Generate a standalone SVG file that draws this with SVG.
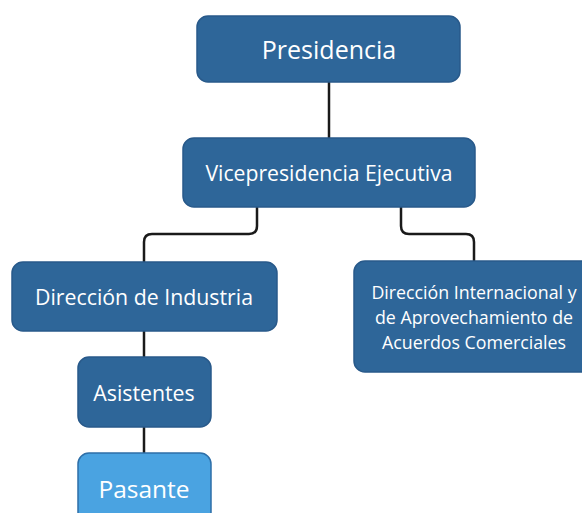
<svg xmlns="http://www.w3.org/2000/svg" width="582" height="513" viewBox="0 0 582 513">
<style>
.box{fill:#2e6699;stroke:#28598a;stroke-width:1.5}
.light{fill:#4aa3e1;stroke:#2e6fa8;stroke-width:1.5}
.t{fill:#ffffff;font-family:"Open Sans","Noto Sans",sans-serif;text-anchor:middle;dominant-baseline:central}
.c{fill:none;stroke:#1a1a1a;stroke-width:2.5}
</style>
<rect width="582" height="513" fill="#ffffff"/>
<g id="connectors">
<path class="c" d="M329 82 V138"/>
<path class="c" d="M257 207 V226 Q257 234 249 234 H152 Q144 234 144 242 V262"/>
<path class="c" d="M401 207 V226 Q401 234 409 234 H466 Q474 234 474 242 V261"/>
<path class="c" d="M144 331 V357"/>
<path class="c" d="M144 427 V453"/>
</g>
<g id="presidencia">
<rect class="box" x="197" y="16" width="263" height="66" rx="11"/>
<text class="t" x="329" y="49" font-size="25">Presidencia</text>
</g>
<g id="vicepresidencia">
<rect class="box" x="183" y="138" width="292" height="69" rx="11"/>
<text class="t" x="329" y="172" font-size="21.2">Vicepresidencia Ejecutiva</text>
</g>
<g id="direccion-industria">
<rect class="box" x="12" y="262" width="265" height="69" rx="11"/>
<text class="t" x="144" y="296" font-size="21.3">Dirección de Industria</text>
</g>
<g id="direccion-internacional">
<rect class="box" x="354" y="261" width="240" height="111" rx="11"/>
<text class="t" x="474" y="292" font-size="17.8">Dirección Internacional y</text>
<text class="t" x="474" y="317" font-size="17.8">de Aprovechamiento de</text>
<text class="t" x="474" y="342" font-size="17.8">Acuerdos Comerciales</text>
</g>
<g id="asistentes">
<rect class="box" x="78" y="357" width="133" height="70" rx="11"/>
<text class="t" x="144" y="392" font-size="21.3">Asistentes</text>
</g>
<g id="pasante">
<rect class="light" x="78" y="453" width="133" height="70" rx="11"/>
<text class="t" x="144" y="488" font-size="24.5">Pasante</text>
</g>
</svg>
